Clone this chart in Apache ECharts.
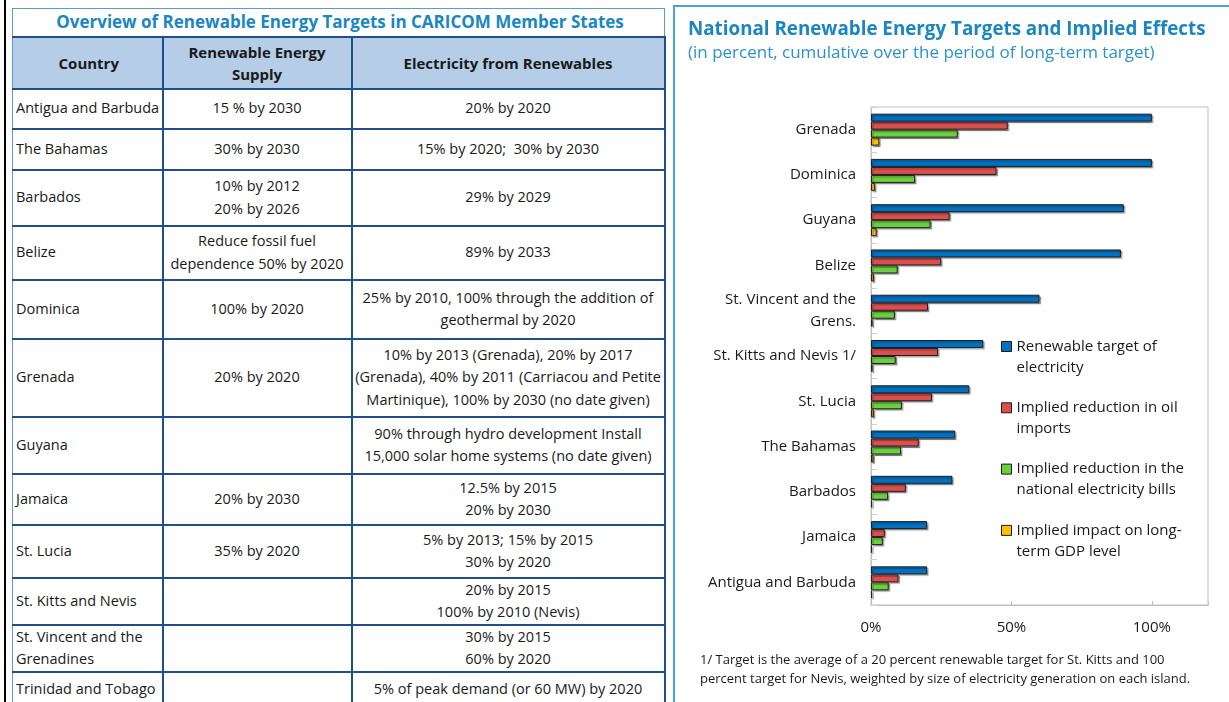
<!DOCTYPE html>
<html>
<head>
<meta charset="utf-8">
<script src="https://cdn.jsdelivr.net/npm/echarts@6/dist/echarts.min.js"></script>
<style>
  html, body { margin: 0; padding: 0; background: #ffffff; width: 1229px; height: 702px; overflow: hidden; font-family: 'Open Sans', sans-serif; }
  #leftbar { position: absolute; left: 4px; top: 0; width: 2px; height: 702px; background: #000; }
  #tbl { position: absolute; left: 12px; top: 8px; width: 652px; border-collapse: collapse; table-layout: fixed; color: #1a1a1a; font-size: 14.5px; }
  #tbl td { border: 2px solid #1f4f86; padding: 0; vertical-align: middle; white-space: pre; line-height: 22.5px; overflow: hidden; }
  #tbl td.c0 { text-align: left; padding-left: 3px; }
  #tbl td.c1, #tbl td.c2 { text-align: center; }
  #tbl tr.title td { border: 1px solid #5b9bd5; border-bottom: 2px solid #1f4f86; color: #1a86c2; font-weight: bold; font-size: 17px; text-align: center; }
  #tbl tr.head td { background: #b5cde6; font-weight: bold; font-size: 15px; text-align: center; line-height: 22px; }
  #tbl td.c0 { border-left: 1px solid #5b9bd5; }
  #panel { position: absolute; left: 673px; top: 5px; width: 600px; height: 760px; border: 2px solid #4d9fd6; box-sizing: border-box; }
  #chart { position: absolute; left: 675px; top: 0; width: 554px; height: 702px; }
</style>
</head>
<body>
<div id="leftbar"></div>
<table id="tbl"></table>
<div id="panel"></div>
<div id="chart"></div>
<script>
// ---- Table data ----
const tableTitle = 'Overview of Renewable Energy Targets in CARICOM Member States';
const tableHeaders = ['Country', 'Renewable Energy\nSupply', 'Electricity from Renewables'];
const tableCountries = ['Antigua and Barbuda', 'The Bahamas', 'Barbados', 'Belize', 'Dominica', 'Grenada', 'Guyana', 'Jamaica', 'St. Lucia', 'St. Kitts and Nevis', 'St. Vincent and the\nGrenadines', 'Trinidad and Tobago'];
const supplyTargets = ['15 % by 2030', '30% by 2030', '10% by 2012\n20% by 2026', 'Reduce fossil fuel\ndependence 50% by 2020', '100% by 2020', '20% by 2020', '', '20% by 2030', '35% by 2020', '', '', ''];
const electricityTargets = ['20% by 2020', '15% by 2020;  30% by 2030', '29% by 2029', '89% by 2033', '25% by 2010, 100% through the addition of\ngeothermal by 2020', '10% by 2013 (Grenada), 20% by 2017\n(Grenada), 40% by 2011 (Carriacou and Petite\nMartinique), 100% by 2030 (no date given)', '90% through hydro development Install\n15,000 solar home systems (no date given)', '12.5% by 2015\n20% by 2030', '5% by 2013; 15% by 2015\n30% by 2020', '20% by 2015\n100% by 2010 (Nevis)', '30% by 2015\n60% by 2020', '5% of peak demand (or 60 MW) by 2020'];

// ---- Chart data ----
const chartTitle = 'National Renewable Energy Targets and Implied Effects';
const chartSubtitle = '(in percent, cumulative over the period of long-term target)';
const chartCategories = ['Grenada', 'Dominica', 'Guyana', 'Belize', 'St. Vincent and the\nGrens.', 'St. Kitts and Nevis 1/', 'St. Lucia', 'The Bahamas', 'Barbados', 'Jamaica', 'Antigua and Barbuda'];
const seriesNames = ['Renewable target of electricity', 'Implied reduction in oil imports', 'Implied reduction in the national electricity bills', 'Implied impact on long-term GDP level'];
const legendLabels = ['Renewable target of\nelectricity', 'Implied reduction in oil\nimports', 'Implied reduction in the\nnational electricity bills', 'Implied impact on long-\nterm GDP level'];
const renewableTarget = [100, 100, 90, 89, 60, 40, 35, 30, 29, 20, 20];
const oilImports = [48.7, 44.7, 28.0, 25.0, 20.3, 23.9, 21.7, 17.0, 12.4, 4.9, 9.8];
const electricityBills = [30.9, 15.7, 21.2, 9.5, 8.5, 8.8, 11.0, 10.7, 6.1, 4.2, 6.3];
const gdpImpact = [3.0, 1.5, 2.0, 1.0, 0.6, 0.6, 1.0, 0.9, 0.4, 0.3, 0.4];
const xTicks = [0, 50, 100];
const footnote = '1/ Target is the average of a 20 percent renewable target for St. Kitts and 100\npercent target for Nevis, weighted by size of electricity generation on each island.';

// ---- Build table ----
const rowHeights = [40, 41, 56, 54, 59, 78, 57, 51, 53, 46, 46, 36];
const tbl = document.getElementById('tbl');
const cg = document.createElement('colgroup');
[150, 189, 313].forEach(w => { const c = document.createElement('col'); c.style.width = w + 'px'; cg.appendChild(c); });
tbl.appendChild(cg);
function addRow(cls, cells, h, colspan) {
  const tr = document.createElement('tr');
  if (cls) tr.className = cls;
  tr.style.height = h + 'px';
  cells.forEach((t, i) => {
    const td = document.createElement('td');
    td.className = 'c' + i;
    if (colspan) td.colSpan = colspan;
    td.textContent = t;
    tr.appendChild(td);
  });
  tbl.appendChild(tr);
}
addRow('title', [tableTitle], 28, 3);
addRow('head', tableHeaders, 52);
tableCountries.forEach((c, i) => addRow('', [c, supplyTargets[i], electricityTargets[i]], rowHeights[i]));

// ---- Chart ----
const chart = echarts.init(document.getElementById('chart'), null, { renderer: 'canvas' });
const colors = ['#0070c0', '#dd4f4f', '#6ccf3f', '#ffc000'];
const values = [renewableTarget, oilImports, electricityBills, gdpImpact];
const FONT = 'Open Sans';
chart.setOption({
  animation: false,
  textStyle: { fontFamily: FONT },
  title: {
    text: chartTitle,
    subtext: chartSubtitle,
    left: 13, top: 18, padding: 0, itemGap: 1,
    textStyle: { fontFamily: FONT, fontWeight: 'bold', fontSize: 18.8, color: '#1a86c2', lineHeight: 24 },
    subtextStyle: { fontFamily: FONT, fontSize: 17, color: '#2a92cc', lineHeight: 20 }
  },
  legend: {
    orient: 'vertical',
    left: 321, top: 310, padding: 5,
    itemWidth: 10, itemHeight: 10, itemGap: -1.7,
    icon: 'rect',
    data: seriesNames,
    formatter: name => '\n' + legendLabels[seriesNames.indexOf(name)],
    itemStyle: { borderColor: '#1a1a1a', borderWidth: 1 },
    textStyle: { fontFamily: FONT, fontSize: 15, color: '#1a1a1a', lineHeight: 21 }
  },
  grid: { left: 196, top: 107, right: 21, bottom: 97, show: true, borderColor: '#c0c0c0', borderWidth: 1, containLabel: false },
  xAxis: {
    type: 'value', min: 0, max: 120, interval: 50,
    axisLine: { show: true, lineStyle: { color: '#c0c0c0' } },
    axisTick: { show: true, inside: true, length: 4, lineStyle: { color: '#c0c0c0' } },
    splitLine: { show: false },
    axisLabel: { margin: 15, fontFamily: FONT, fontSize: 15, color: '#1a1a1a', formatter: v => xTicks.indexOf(v) >= 0 ? v + '%' : '' }
  },
  yAxis: {
    type: 'category', inverse: true, data: chartCategories,
    axisLine: { show: true, lineStyle: { color: '#c0c0c0' } },
    axisTick: { show: true, inside: true, length: 6, lineStyle: { color: '#d0d0d0' } },
    axisLabel: { margin: 15, fontFamily: FONT, fontSize: 15, color: '#1a1a1a', lineHeight: 22, align: 'right' }
  },
  graphic: [{
    type: 'text', left: 25, top: 651,
    style: { text: footnote, font: '13px "Open Sans"', fill: '#1a1a1a', lineHeight: 19 }
  }],
  series: seriesNames.map((n, i) => ({
    name: n, type: 'bar', data: values[i],
    barWidth: 8, barGap: '0%',
    itemStyle: { color: colors[i], borderColor: '#1f1f1f', borderWidth: 1, shadowColor: 'rgba(0,0,0,0.35)', shadowOffsetX: 1.5, shadowOffsetY: 1.5, shadowBlur: 1 }
  }))
});
</script>
</body>
</html>
